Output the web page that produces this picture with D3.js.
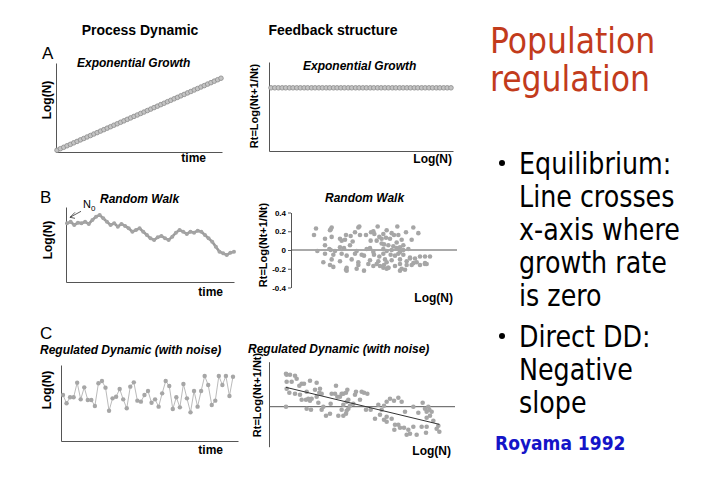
<!DOCTYPE html>
<html>
<head>
<meta charset="utf-8">
<title>Population regulation</title>
<script src="https://cdn.jsdelivr.net/npm/d3@7"></script>
<style>
    body { margin: 0; background: #fff; }
    svg { display: block; }
    text { font-family: "Liberation Sans", Arial, sans-serif; fill: #000; }
    .hd { font-size: 14px; font-weight: bold; }
    .sub { font-size: 12px; font-weight: bold; font-style: italic; }
    .lbl { font-size: 12px; font-weight: bold; }
    .rt { font-size: 11px; font-weight: bold; }
    .let { font-size: 17px; }
    .axis path, .axis line { stroke: #555; }
    .axis text { font-size: 8px; font-weight: bold; font-family: "Liberation Sans", Arial, sans-serif; }
    .side text { font-family: "DejaVu Sans Condensed", "DejaVu Sans", sans-serif; font-stretch: condensed; }
</style>
</head>
<body>
<script>
// A: exponential growth, Log(N) per time step
var expLogN = [0.20, 0.37, 0.53, 0.70, 0.86, 1.03, 1.19, 1.36, 1.52, 1.69,
    1.85, 2.02, 2.18, 2.35, 2.51, 2.68, 2.84, 3.01, 3.17, 3.34,
    3.50, 3.67, 3.83, 4.00, 4.16, 4.33, 4.49, 4.66, 4.82, 4.99,
    5.15, 5.32, 5.48, 5.65, 5.81, 5.98, 6.14, 6.31, 6.47, 6.64,
    6.80, 6.97, 7.13, 7.30, 7.46, 7.63, 7.79, 7.96, 8.12, 8.29];
// A: feedback, constant growth rate
var expRt = [0.71, 0.71, 0.71, 0.71, 0.71, 0.71, 0.71, 0.71, 0.71, 0.71,
    0.71, 0.71, 0.71, 0.71, 0.71, 0.71, 0.71, 0.71, 0.71, 0.71,
    0.71, 0.71, 0.71, 0.71, 0.71, 0.71, 0.71, 0.71, 0.71, 0.71,
    0.71, 0.71, 0.71, 0.71, 0.71, 0.71, 0.71, 0.71, 0.71, 0.71,
    0.71, 0.71, 0.71, 0.71, 0.71, 0.71, 0.71, 0.71, 0.71, 0.71];

// B: random walk
var walkLogN = [7.93, 8.15, 7.70, 8.02, 7.93, 8.15, 7.84, 8.38, 8.83, 9.05,
    8.60, 8.15, 7.70, 7.93, 7.48, 7.84, 7.57, 7.25, 6.80, 7.03,
    7.25, 6.80, 6.35, 5.90, 5.68, 6.04, 6.22, 5.90, 5.68, 6.13,
    6.67, 7.03, 6.80, 6.49, 6.80, 6.67, 6.94, 6.80, 6.35, 5.90,
    5.45, 4.77, 4.10, 3.87, 3.65, 3.96, 4.10];
// B: Rt vs Log(N)
var walkScatter = [
    [2.28, 0.23], [2.72, 0.22], [2.75, 0.24], [3.55, 0.24], [3.58, 0.25], [4.13, 0.25], [4.72, 0.25], [5.20, 0.24],
    [2.70, 0.21], [3.45, 0.19], [3.93, 0.19], [4.00, 0.20], [4.40, 0.21], [4.55, 0.18], [4.98, 0.19], [5.35, 0.18],
    [2.22, 0.16], [3.00, 0.12], [3.18, 0.16], [3.32, 0.15], [3.60, 0.16], [3.78, 0.16], [4.03, 0.17], [4.18, 0.14],
    [4.30, 0.17], [4.38, 0.13], [4.62, 0.16], [4.75, 0.16], [4.85, 0.11],
    [2.55, 0.12], [2.75, 0.14], [3.05, 0.10], [3.15, 0.11], [3.38, 0.09], [3.92, 0.10], [4.10, 0.10], [4.25, 0.12],
    [4.50, 0.12], [4.70, 0.08], [5.15, 0.11],
    [2.55, 0.05], [3.00, 0.03], [3.30, 0.05], [3.90, 0.02], [4.25, 0.07], [4.32, 0.06], [4.45, 0.05], [4.60, 0.04],
    [4.80, 0.03], [4.90, 0.05],
    [2.32, -0.01], [2.68, 0.01], [2.72, 0.00], [2.85, -0.01], [3.12, 0.02], [3.50, -0.01], [3.80, 0.01], [4.00, -0.02],
    [4.30, 0.01], [4.40, -0.01], [4.55, 0.00], [4.70, 0.02], [4.80, -0.02], [4.90, 0.00], [5.05, 0.01],
    [2.55, -0.04], [2.80, -0.05], [3.05, -0.04], [3.20, -0.06], [3.45, -0.04], [3.65, -0.05], [3.72, -0.06], [4.02, -0.05],
    [4.18, -0.07], [4.30, -0.04], [4.52, -0.05], [4.65, -0.06], [4.75, -0.04], [4.90, -0.05], [5.10, -0.08], [5.25, -0.09],
    [5.40, -0.07], [5.55, -0.07], [5.70, -0.07],
    [2.50, -0.13], [2.75, -0.10], [3.00, -0.12], [3.35, -0.10], [3.55, -0.13], [3.90, -0.11], [4.15, -0.12], [4.35, -0.10],
    [4.40, -0.13], [4.55, -0.11], [4.80, -0.10], [5.00, -0.12], [5.10, -0.09], [5.30, -0.13], [5.55, -0.14],
    [2.70, -0.16], [2.80, -0.18], [3.20, -0.19], [3.55, -0.16], [3.85, -0.15], [4.00, -0.17], [4.10, -0.15], [4.20, -0.17],
    [4.32, -0.16], [4.45, -0.19], [4.65, -0.17], [4.80, -0.15], [5.00, -0.16], [5.15, -0.16], [5.20, -0.14], [5.40, -0.16],
    [5.55, -0.15], [5.60, -0.15],
    [3.18, -0.21], [3.20, -0.22], [3.50, -0.20], [3.72, -0.22], [4.30, -0.19], [4.40, -0.20], [4.45, -0.19], [4.80, -0.22],
    [4.85, -0.20], [4.95, -0.21]];
var rtTicks = [0.4, 0.2, 0, -0.2, -0.4];

// C: regulated dynamic with noise
var regLogN = [6.05, 4.96, 5.75, 5.75, 7.68, 5.48, 7.06, 5.39, 5.39, 4.61,
    7.59, 7.89, 7.02, 3.99, 5.61, 5.83, 6.84, 5.48, 4.30, 7.15,
    7.72, 5.31, 5.18, 6.05, 6.58, 5.04, 5.48, 4.52, 6.27, 7.89,
    7.24, 4.21, 5.75, 4.43, 7.50, 5.61, 3.77, 6.58, 4.52, 6.58,
    8.55, 7.37, 4.74, 5.31, 8.55, 7.37, 8.55, 5.92, 8.46];
var regScatter = [
    [1.38, 0.33], [1.40, 0.32], [1.65, 0.31], [1.70, 0.28], [1.40, 0.25], [1.55, 0.25], [1.85, 0.23], [1.92, 0.23],
    [2.10, 0.26], [2.30, 0.24], [1.40, 0.18], [1.48, 0.14], [1.65, 0.13], [1.80, 0.12], [1.85, 0.07], [1.98, 0.07],
    [2.05, 0.08], [2.10, 0.06], [2.15, 0.08], [2.30, 0.10], [2.38, 0.14], [2.40, 0.18], [2.45, 0.13], [2.35, 0.04],
    [2.00, -0.02], [2.13, -0.03], [2.45, -0.03], [2.50, 0.00], [2.70, -0.07], [2.72, 0.03], [2.75, 0.13], [2.85, 0.13],
    [2.88, 0.21], [2.92, 0.10], [3.00, 0.10], [3.05, 0.13], [3.10, 0.13], [3.18, 0.14], [3.22, 0.17], [3.10, 0.02],
    [3.05, -0.03], [2.95, -0.09], [3.10, -0.09], [3.18, -0.07], [3.20, -0.04], [3.25, -0.02], [3.30, 0.01], [3.25, 0.07],
    [3.40, 0.03], [3.45, 0.12], [3.48, 0.15], [3.65, 0.15], [3.72, 0.14], [3.82, 0.13], [3.60, 0.07], [3.78, -0.03],
    [3.92, -0.03], [4.05, -0.12], [4.20, -0.08], [4.25, -0.03], [4.32, 0.01], [4.40, 0.05], [4.50, 0.08], [4.62, 0.06],
    [4.75, 0.09], [4.85, 0.05], [4.95, -0.05], [4.32, -0.13], [4.40, -0.15], [4.55, -0.12], [4.65, -0.18], [4.63, -0.23],
    [4.75, -0.18], [4.80, -0.21], [4.92, -0.21], [5.05, -0.23], [5.10, -0.27], [5.00, -0.28], [5.20, -0.20], [5.30, -0.28],
    [5.45, -0.20], [5.48, 0.04], [5.55, -0.02], [5.60, -0.05], [5.65, 0.00], [5.68, -0.03], [5.60, -0.11], [5.70, -0.09],
    [5.75, -0.05], [5.60, -0.20], [5.58, -0.26], [5.95, -0.19], [5.98, -0.25], [1.38, 0.00], [1.50, 0.32], [1.78, 0.21],
    [2.00, 0.15], [2.25, 0.17], [2.58, -0.09], [3.20, 0.05], [4.15, 0.02], [4.40, -0.10], [5.20, 0.00], [5.35, -0.06],
    [5.80, -0.14], [5.90, -0.22]];

var sideTitle = ["Population", "regulation"];
var bullets = [["Equilibrium:", "Line crosses", "x-axis where", "growth rate", "is zero"],
    ["Direct DD:", "Negative", "slope"]];
var citation = "Royama 1992";

var svg = d3.select("body").append("svg")
    .attr("width", 720)
    .attr("height", 480);

svg.append("rect").attr("width", 720).attr("height", 480).attr("fill", "#fff");

function frame(left, right, top, bottom, withBottom) {
    var ay = d3.scaleLinear().range([bottom, top]);
    svg.append("g").attr("class", "axis")
        .attr("transform", "translate(" + left + ",0)")
        .call(d3.axisLeft(ay).ticks(0).tickSizeOuter(0));
    if (withBottom) {
        var ax = d3.scaleLinear().range([left, right]);
        svg.append("g").attr("class", "axis")
            .attr("transform", "translate(0," + bottom + ")")
            .call(d3.axisBottom(ax).ticks(0).tickSizeOuter(0));
    }
}

function label(x, y, cls, txt, anchor) {
    return svg.append("text").attr("class", cls)
        .attr("x", x).attr("y", y)
        .attr("text-anchor", anchor || "start")
        .text(txt);
}

function vlabel(x, y, cls, txt) {
    svg.append("text").attr("class", cls)
        .attr("text-anchor", "middle")
        .attr("transform", "translate(" + x + "," + y + ") rotate(-90)")
        .text(txt);
}

function dots(data, x, y, r, fill, stroke) {
    svg.append("g").selectAll("circle")
        .data(data)
        .enter().append("circle")
        .attr("cx", function (d, i) { return x(d, i); })
        .attr("cy", function (d, i) { return y(d, i); })
        .attr("r", r)
        .attr("fill", fill)
        .attr("stroke", stroke || "none")
        .attr("stroke-width", 0.8);
}

// column headings
label(140, 35, "hd", "Process Dynamic", "middle");
label(333, 35, "hd", "Feedback structure", "middle");

// ---- A left
var axT = d3.scaleLinear().domain([0, expLogN.length - 1]).range([57, 221]);
var ayA = d3.scaleLinear().domain([0, 10]).range([152, 63]);
frame(56, 222, 63, 152, true);
dots(expLogN, function (d, i) { return axT(i); }, function (d) { return ayA(d); }, 2.3, "#c4c4c4", "#8c8c8c");
label(42, 59, "let", "A");
label(77, 67, "sub", "Exponential Growth");
vlabel(51, 100, "lbl", "Log(N)");
label(206, 162, "lbl", "time", "end");

// ---- A right
var axA2 = d3.scaleLinear().domain(d3.extent(expLogN)).range([271, 451]);
var ayA2 = d3.scaleLinear().domain([0, 1]).range([151, 62]);
frame(269, 453, 62, 151, true);
dots(expRt, function (d, i) { return axA2(expLogN[i]); }, function (d) { return ayA2(d); }, 2.3, "#c4c4c4", "#8c8c8c");
label(303, 70, "sub", "Exponential Growth");
vlabel(258, 106, "rt", "Rt=Log(Nt+1/Nt)");
label(452, 163, "lbl", "Log(N)", "end");

// ---- B left
var axB = d3.scaleLinear().domain([0, walkLogN.length - 1]).range([67, 234]);
var ayB = d3.scaleLinear().domain([0, 10]).range([282, 208]);
frame(66, 234, 207, 282, true);
svg.append("path")
    .datum(walkLogN)
    .attr("fill", "none")
    .attr("stroke", "#9a9a9a")
    .attr("stroke-width", 2.6)
    .attr("d", d3.line().x(function (d, i) { return axB(i); }).y(function (d) { return ayB(d); }));
dots(walkLogN, function (d, i) { return axB(i); }, function (d) { return ayB(d); }, 2, "#a4a4a4");
label(40, 203, "let", "B");
label(100, 203, "sub", "Random Walk");
vlabel(52, 240, "lbl", "Log(N)");
label(223, 296, "lbl", "time", "end");
// N0 annotation pointing to the first value
var tipX = axB(0) + 3, tipY = ayB(walkLogN[0]) - 6;
var arrow = d3.path();
arrow.moveTo(tipX + 11, tipY - 6);
arrow.lineTo(tipX, tipY);
arrow.moveTo(tipX + 5, tipY - 5);
arrow.lineTo(tipX, tipY);
arrow.lineTo(tipX + 5, tipY + 1);
svg.append("path").attr("d", arrow.toString())
    .attr("fill", "none").attr("stroke", "#333").attr("stroke-width", 0.8);
var n0 = label(tipX + 13, tipY - 9, "", "N").style("font-size", "11px");
n0.append("tspan").attr("dy", 3).style("font-size", "8px").text("0");

// ---- B right
var axB2 = d3.scaleLinear().domain([1.53, 6.51]).range([291, 457]);
var ayB2 = d3.scaleLinear().domain([-0.4, 0.4]).range([287.5, 212.5]);
svg.append("g").attr("class", "axis")
    .attr("transform", "translate(291,0)")
    .call(d3.axisLeft(ayB2).tickValues(rtTicks).tickSize(3).tickSizeOuter(0).tickPadding(2)
        .tickFormat(function (d) { return String(d); }));
svg.append("line")
    .attr("x1", axB2.range()[0]).attr("x2", axB2.range()[1])
    .attr("y1", ayB2(0)).attr("y2", ayB2(0))
    .attr("stroke", "#555");
dots(walkScatter, function (d) { return axB2(d[0]); }, function (d) { return ayB2(d[1]); }, 2.3, "#a6a6a6");
label(325, 202, "sub", "Random Walk");
vlabel(267, 245, "rt", "Rt=Log(Nt+1/Nt)");
label(453, 302, "lbl", "Log(N)", "end");

// ---- C left
var axC = d3.scaleLinear().domain([0, regLogN.length - 1]).range([63, 233]);
var ayC = d3.scaleLinear().domain([0, 10]).range([441, 365]);
frame(61, 238, 365, 441, true);
svg.append("path")
    .datum(regLogN)
    .attr("fill", "none")
    .attr("stroke", "#a8a8a8")
    .attr("stroke-width", 0.8)
    .attr("d", d3.line().x(function (d, i) { return axC(i); }).y(function (d) { return ayC(d); }));
dots(regLogN, function (d, i) { return axC(i); }, function (d) { return ayC(d); }, 2.2, "#a6a6a6");
label(40, 339, "let", "C");
label(40, 354, "sub", "Regulated Dynamic (with noise)");
vlabel(51, 390, "lbl", "Log(N)");
label(223, 454, "lbl", "time", "end");

// ---- C right
var axC2 = d3.scaleLinear().domain([0.87, 6.45]).range([269, 455]);
var ayC2 = d3.scaleLinear().domain([-0.4, 0.45]).range([446.7, 361.7]);
frame(269, 455, 361.7, 446.7, false);
svg.append("line")
    .attr("x1", axC2.range()[0]).attr("x2", axC2.range()[1])
    .attr("y1", ayC2(0)).attr("y2", ayC2(0))
    .attr("stroke", "#555");
dots(regScatter, function (d) { return axC2(d[0]); }, function (d) { return ayC2(d[1]); }, 2.3, "#a6a6a6");
// least-squares fit of Rt on Log(N)
var mx = d3.mean(regScatter, function (d) { return d[0]; }),
    my = d3.mean(regScatter, function (d) { return d[1]; });
var slope = d3.sum(regScatter, function (d) { return (d[0] - mx) * (d[1] - my); }) /
    d3.sum(regScatter, function (d) { return (d[0] - mx) * (d[0] - mx); });
var xr = d3.extent(regScatter, function (d) { return d[0]; });
svg.append("line")
    .attr("x1", axC2(xr[0])).attr("y1", ayC2(my + slope * (xr[0] - mx)))
    .attr("x2", axC2(xr[1])).attr("y2", ayC2(my + slope * (xr[1] - mx)))
    .attr("stroke", "#333").attr("stroke-width", 1);
label(248, 353, "sub", "Regulated Dynamic (with noise)");
vlabel(261, 395, "rt", "Rt=Log(Nt+1/Nt)");
label(451, 455, "lbl", "Log(N)", "end");

// ---- right hand text
var side = svg.append("g").attr("class", "side");
side.selectAll("text.title")
    .data(sideTitle)
    .enter().append("text")
    .attr("class", "title")
    .attr("x", 490)
    .attr("y", function (d, i) { return 53 + i * 38; })
    .style("font-size", "35px")
    .style("fill", "#c23b1c")
    .text(function (d) { return d; });

var baseY = [174, 347];
bullets.forEach(function (lines, b) {
    side.append("circle")
        .attr("cx", 502).attr("cy", baseY[b] - 11).attr("r", 3)
        .attr("fill", "#000");
    side.append("g")
        .attr("transform", "translate(519,0) scale(0.94,1)")
        .selectAll("text")
        .data(lines)
        .enter().append("text")
        .attr("x", 0)
        .attr("y", function (d, i) { return baseY[b] + i * 33; })
        .style("font-size", "30px")
        .text(function (d) { return d; });
});

side.append("text")
    .attr("x", 495).attr("y", 450)
    .style("font-size", "19px")
    .style("font-weight", "bold")
    .style("fill", "#1414c8")
    .text(citation);
</script>
</body>
</html>
